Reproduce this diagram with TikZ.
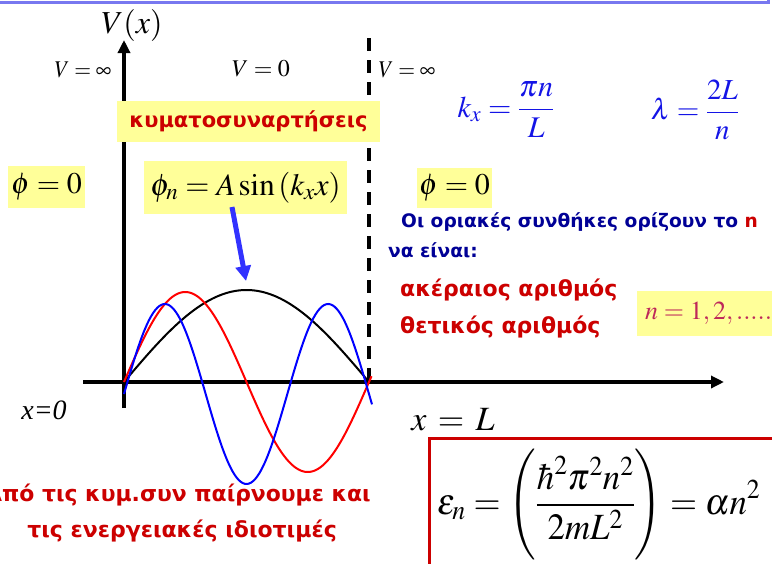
\documentclass[tikz,border=0pt]{standalone}
\usepackage{mathptmx}
\usepackage[no-math]{fontspec}
\newfontfamily\grf{DejaVu Sans}
\newfontfamily\tms{Liberation Serif}
\usetikzlibrary{arrows.meta}
\definecolor{yel}{RGB}{255,255,153}
\definecolor{dred}{RGB}{204,0,0}
\definecolor{navyb}{RGB}{0,0,150}
\definecolor{eqblue}{RGB}{20,20,230}
\definecolor{pinkn}{RGB}{190,40,90}
\definecolor{frameblue}{RGB}{120,120,240}
\definecolor{arrblue}{RGB}{50,50,255}
\newcommand{\mt}[3]{\scalebox{#2}[1]{\fontsize{#1}{#1}\selectfont$\displaystyle #3$}}
\begin{document}
\begin{tikzpicture}[x=1pt,y=-1pt,
  ybox/.style={fill=yel, inner sep=0pt},
  grtxt/.style={font={\grf\bfseries\fontsize{#1}{#1}\selectfont}, inner sep=0pt},
  axis/.style={line width=4pt, -{Triangle[length=13pt,width=12pt]}},
  curve/.style={line width=2pt, smooth, samples=120}]
\useasboundingbox (0,0) rectangle (772,563);
\clip (0,0) rectangle (772,563);
% top frame edge
\draw[frameblue, line width=3pt] (-5,2) -- (768,2) -- (768,-5);
% axes
\coordinate (yb) at (124,408);
\coordinate (yt) at (124,40);
\coordinate (xl) at (83,382);
\coordinate (xr) at (724,382);
\draw[axis] (yb) -- (yt);
\draw[axis] (xl) -- (xr);
\coordinate (dt) at (369,38);
\coordinate (db) at (369,384);
\draw[line width=4pt, dash pattern=on 13pt off 9pt] (dt) -- (db);
% curves
\draw[curve, black] plot[domain=124:369] (\x,{382-92*sin((\x-124)/245*180)});
\draw[curve, red] plot[domain=124:371.5] (\x,{382-90*sin((\x-124)/245*360)});
\draw[curve, blue] plot[domain=124:372] (\x,{394-90*sin((\x-124)/245*540)});
% labels top
\node (Vx) at (132,25) {\mt{32}{1}{V(x)}};
\node (Vinf1) at (83,70) {\mt{24}{0.9}{V=\infty}};
\node (V0) at (261,69) {\mt{24}{1}{V=0}};
\node (Vinf2) at (407,70) {\mt{24}{0.9}{V=\infty}};
\node[text=eqblue] (kx) at (506,110) {\mt{30}{1}{k_x=\frac{\pi n}{L}}};
\node[text=eqblue] (lam) at (695,110) {\mt{29}{1}{\lambda=\frac{2L}{n}}};
% yellow boxes
\node[ybox, minimum width=263pt, minimum height=41pt] (kyma) at (248.5,121.5) {};
\node[grtxt=21, text=dred] at (kyma) {κυματοσυναρτήσεις};
\node[ybox, minimum width=77pt, minimum height=42pt] (phiL) at (46.5,187) {\mt{30}{1}{\phi=0}};
\node[ybox, minimum width=203pt, minimum height=53pt] (phin) at (245.5,187.5) {\mt{31}{1}{\phi_n=A\sin\left(k_x x\right)}};
\node[ybox, minimum width=75pt, minimum height=40pt] (phiR) at (454.5,188) {\mt{30}{1}{\phi=0}};
% arrow
\coordinate (as) at (232,207);
\coordinate (ae) at (246,281);
\draw[arrblue, line width=5pt, -{Triangle[length=15pt,width=15pt]}] (as) -- (ae);
% right texts
\node[grtxt=18.6, text=navyb, anchor=west] (oi) at (401,222) {Οι οριακές συνθήκες ορίζουν το \textcolor{dred}{n}};
\node[grtxt=18.6, text=navyb, anchor=west] (na) at (388,250) {να είναι:};
\node[grtxt=22, text=dred, anchor=west] (ak) at (400,290) {ακέραιος αριθμός};
\node[grtxt=22, text=dred, anchor=west] (th) at (400,327) {θετικός αριθμός};
\node[ybox, minimum width=140pt, minimum height=45pt] (nbox) at (707,313.5) {};
\node[text=pinkn, anchor=west, inner sep=0pt] (nval) at (645,313) {\mt{26}{1}{n=1,2,.....}};
% x labels
\node (x0) at (44,410) {\tms\fontsize{28}{28}\selectfont\textit{x=0}};
\node (xL) at (453,420) {\mt{34}{1}{x\,=\,L}};
% energy box
\draw[dred, line width=3pt] (429.5,600) -- (429.5,438.5) -- (800,438.5);
\node[anchor=west, inner sep=0pt] (eps) at (437,505) {\mt{37}{0.94}{\varepsilon_n=\left(\frac{\hbar^2\pi^2n^2}{2mL^2}\right)=\alpha n^2}};
% bottom text
\node[grtxt=21.9, text=dred, anchor=east] (b1) at (371,495) {Από τις κυμ.συν παίρνουμε και};
\node[grtxt=22, text=dred] (b2) at (182,531) {τις ενεργειακές ιδιοτιμές};
\end{tikzpicture}
\end{document}
